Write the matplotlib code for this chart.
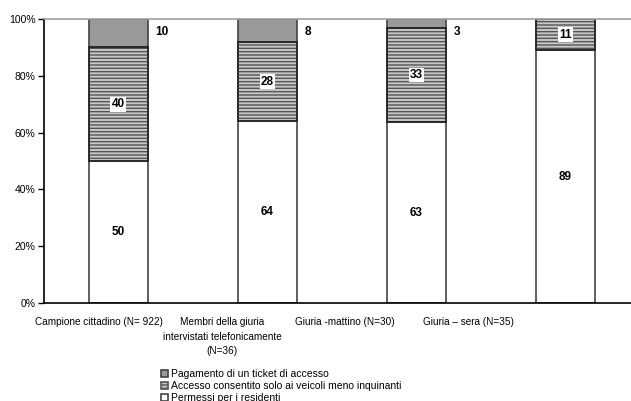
import matplotlib.pyplot as plt
import numpy as np

plt.rcParams['font.family'] = ['Liberation Sans', 'DejaVu Sans']
plt.rcParams['hatch.linewidth'] = 1.0

# -----------------------
# Dati
# -----------------------
gruppi = ["Campione cittadino (N= 922)",
          "Membri della giuria\nintervistati telefonicamente\n(N=36)",
          "Giuria -mattino (N=30)",
          "Giuria – sera (N=35)"]
residenti = [50, 64, 63, 89]
meno_inquinanti = [40, 28, 33, 11]
ticket = [10, 8, 3, 0]

etichette = ["Permessi per i residenti",
             "Accesso consentito solo ai veicoli meno inquinanti",
             "Pagamento di un ticket di accesso"]

# -----------------------
# Grafico
# -----------------------
fig = plt.figure(figsize=(6.31, 4.01), dpi=100)
ax = fig.add_axes([0.0697, 0.2444, 0.9445, 0.708])

x = np.arange(len(gruppi))
r = np.array(residenti, float)
m = np.array(meno_inquinanti, float)
t = np.array(ticket, float)
tot = r + m + t
r_p, m_p, t_p = r / tot, m / tot, t / tot

w = 0.4
b1 = ax.bar(x, r_p, w, color='white', edgecolor='#444444', linewidth=1.2,
            label=etichette[0])
b2 = ax.bar(x, m_p, w, bottom=r_p, color='#c8c8c8', edgecolor='#555555',
            hatch='-----', linewidth=1.2, label=etichette[1])
b3 = ax.bar(x, t_p, w, bottom=r_p + m_p, color='#999999', edgecolor='#444444',
            linewidth=1.2, label=etichette[2])
# bordi scuri sopra il tratteggio
for p in b2:
    ax.add_patch(plt.Rectangle(p.get_xy(), p.get_width(), p.get_height(),
                               fill=False, edgecolor='#222222', linewidth=1.2))

# valori
for i in range(len(gruppi)):
    ax.text(x[i], r_p[i] / 2, f"{residenti[i]:d}", ha='center', va='center',
            fontsize=8.5, fontweight='bold')
    ax.text(x[i], r_p[i] + m_p[i] / 2, f"{meno_inquinanti[i]:d}", ha='center',
            va='center', fontsize=8.5, fontweight='bold',
            bbox=dict(facecolor='white', edgecolor='none', pad=1))
    if ticket[i] > 0:
        ax.text(x[i] + w / 2 + 0.05, 0.955, f"{ticket[i]:d}", ha='left',
                va='center', fontsize=8.5, fontweight='bold')

ax.set_ylim(0, 1)
ax.set_xlim(-0.5, 3.5)
ax.set_yticks(np.arange(0, 1.01, 0.2))
ax.set_yticklabels([f"{int(v * 100)}%" for v in np.arange(0, 1.01, 0.2)],
                   fontsize=7.5)
# etichette di categoria più ravvicinate delle barre
ax.set_xticks(x * 0.826 - 0.13)
ax.set_xticklabels(gruppi, fontsize=7.2, linespacing=1.6)
ax.tick_params(axis='x', length=0, pad=10)
ax.tick_params(axis='y', length=4, width=1, direction='out', pad=2)

ax.spines['right'].set_visible(False)
ax.spines['top'].set_color('#a0a0a0')
ax.spines['top'].set_linewidth(1.2)
ax.spines['left'].set_linewidth(1.2)
ax.spines['bottom'].set_linewidth(1.2)

# legenda
handles = [b3, b2, b1]
fig.legend(handles, [etichette[2], etichette[1], etichette[0]],
           loc='upper left', bbox_to_anchor=(0.255, 0.080),
           frameon=False, fontsize=7.5, handlelength=0.7, handleheight=0.7,
           handletextpad=0.3, labelspacing=0.2, borderaxespad=0, borderpad=0)

fig.savefig('out.png', dpi=100)
